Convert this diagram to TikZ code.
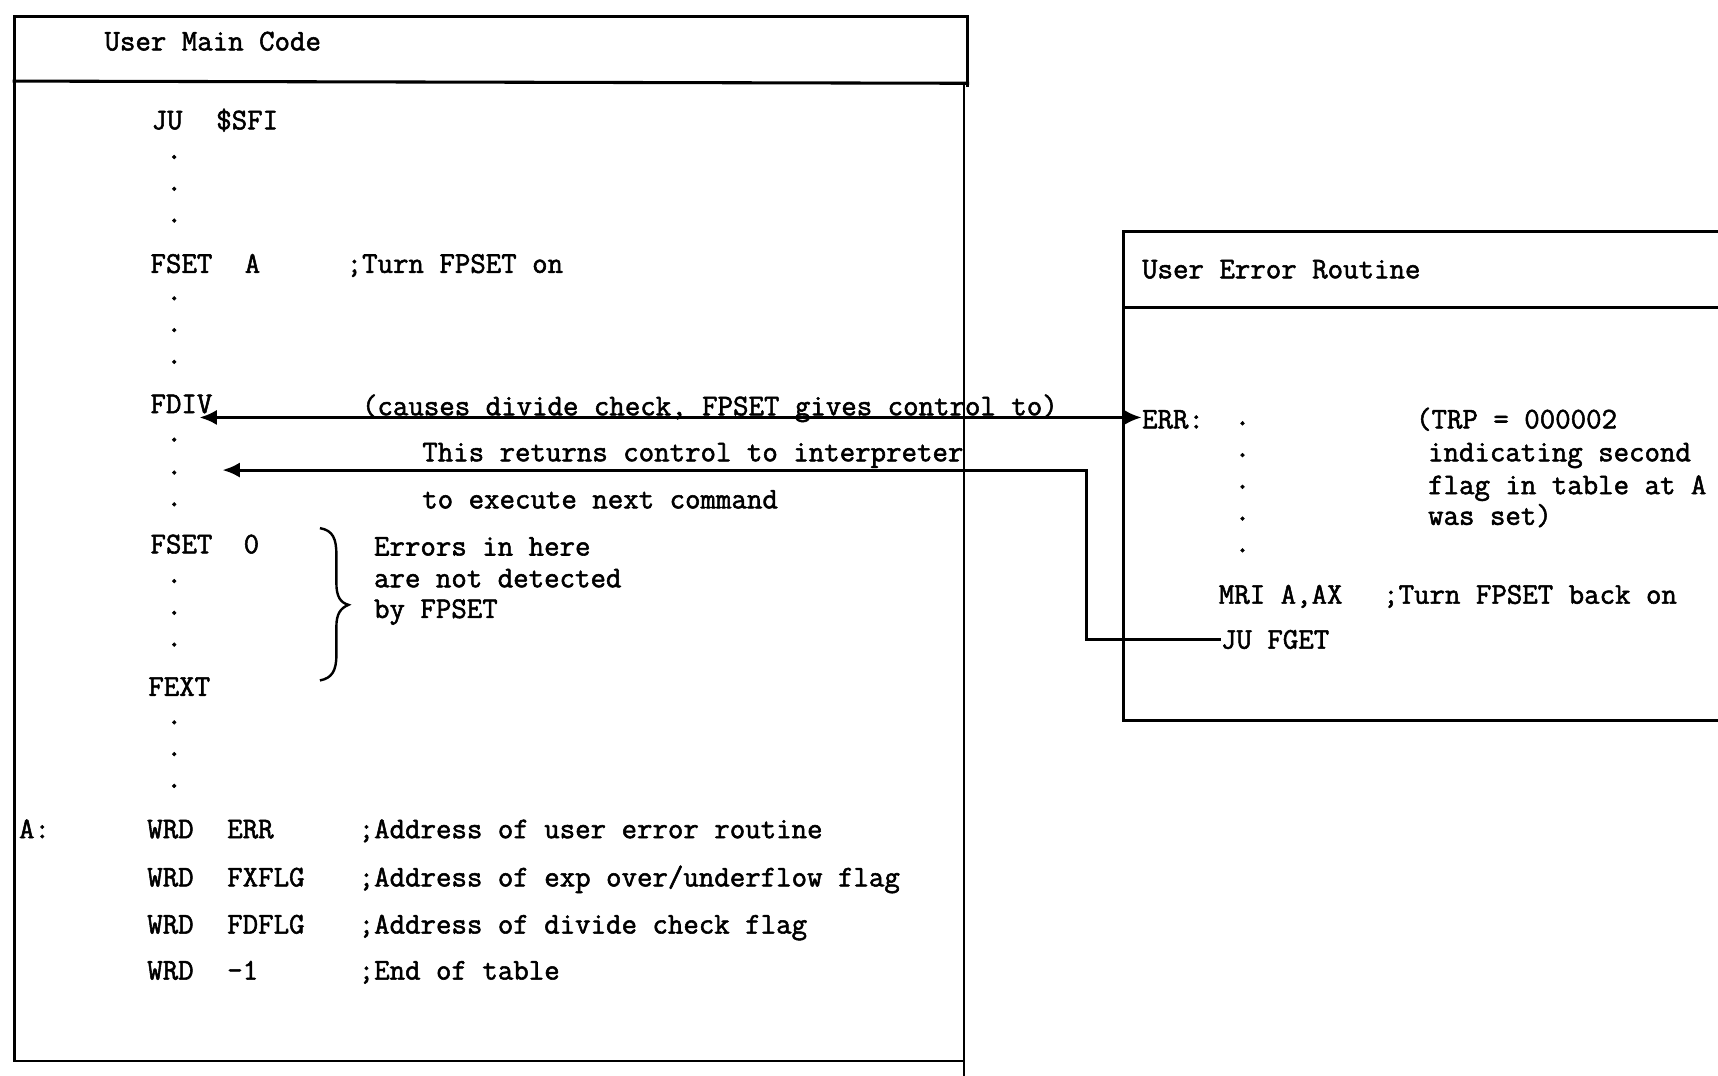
\documentclass[tikz,border=0pt]{standalone}
\usepackage{fontspec}
\newfontfamily\twfont{Latin Modern Mono}[FakeBold=1.8]
\usetikzlibrary{arrows.meta}
\begin{document}
\begin{tikzpicture}[x=0.5pt,y=-0.5pt,
  txt/.style={anchor=base west, inner sep=0pt, font=\fontsize{13.7}{16}\selectfont\twfont},
  dotc/.style={anchor=base, inner sep=0pt, font=\fontsize{15}{16}\selectfont\twfont},
  boxline/.style={line width=1.4pt, line cap=rect},
  thinline/.style={line width=0.9pt},
  conn/.style={line width=1.4pt},
  tipsty/.style={{Latex[length=8pt,width=7pt]}-{Latex[length=8pt,width=7pt]}},
  onetip/.style={-{Latex[length=8pt,width=7pt]}}
]
\useasboundingbox (0,0) rectangle (1568,982);
% ---------- left box ----------
\draw[boxline] (13,968) -- (13,15) -- (883,15) -- (883,78);
\draw[boxline] (13,74) -- (883,76);
\draw[thinline] (880,76) -- (880,982);
\draw[thinline] (13,968) -- (880,968);
\node[txt] (lhead) at (95,46) {User Main Code};
\node[txt] (ju) at (138,118) {JU};
\node[txt] (sfi) at (197,118) {\$SFI};
\foreach \i/\yy in {d1/145,d2/174,d3/203,d4/274,d5/303,d6/332,d7/403,d8/433,d9/462,d10/532,d11/561,d12/590,d13/661,d14/690,d15/719}
  {\node[dotc] (\i) at (159,\yy) {.};}
\node[txt] (fseta) at (137,249) {FSET};
\node[txt] (fsetaa) at (223,249) {A};
\node[txt] (turnon) at (316,249) {;Turn FPSET on};
\node[txt] (fdiv) at (137,377) {FDIV};
\node[txt] (causes) at (330,379) {(causes divide check, FPSET gives control to)};
\node[txt] (returns) at (385,421) {This returns control to interpreter};
\node[txt] (toexec) at (385,464) {to execute next command};
\node[txt] (fset0) at (137,505) {FSET};
\node[txt] (fset00) at (222,505) {0};
\node[txt] (err1) at (341,507) {Errors in here};
\node[txt] (err2) at (341,536) {are not detected};
\node[txt] (err3) at (341,564) {by FPSET};
\draw[line width=1.1pt] (292,482) .. controls (304,484) and (307,492) .. (307,506) -- (307,532)
  .. controls (307,545) and (311,550) .. (318,552)
  .. controls (311,555) and (307,560) .. (307,572) -- (307,598)
  .. controls (307,612) and (303,619) .. (292,621);
\node[txt] (fext) at (135,635) {FEXT};
\node[txt] (alab) at (17,765) {A:};
\foreach \n/\yy/\b/\c in {w1/765/ERR/{;Address of user error routine},
                          w2/809/FXFLG/{;Address of exp over/underflow flag},
                          w3/852/FDFLG/{;Address of divide check flag},
                          w4/894/-1/{;End of table}}
 {\node[txt] (\n a) at (134,\yy) {WRD};
  \node[txt] (\n b) at (207,\yy) {\b};
  \node[txt] (\n c) at (327,\yy) {\c};}
% ---------- right box ----------
\draw[boxline] (1568,211) -- (1025,211) -- (1025,658) -- (1568,658);
\draw[boxline] (1025,281) -- (1568,281);
\node[txt] (rhead) at (1042,254) {User Error Routine};
\node[txt] (errl) at (1042,391) {ERR:};
\foreach \i/\yy in {e1/388,e2/417,e3/446,e4/475,e5/504}
  {\node[dotc] (\i) at (1134,\yy) {.};}
\node[txt] (trp1) at (1292,391) {(TRP = 000002};
\node[txt] (trp2) at (1303,421) {indicating second};
\node[txt] (trp3) at (1303,451) {flag in table at A};
\node[txt] (trp4) at (1303,479) {was set)};
\node[txt] (mri) at (1112,551) {MRI A,AX};
\node[txt] (mric) at (1262,551) {;Turn FPSET back on};
\node[txt] (jufget) at (1114,592) {JU FGET};
% ---------- connectors ----------
\coordinate (fdivtip) at (182,381);
\coordinate (turn) at (992,429);
\coordinate (rettip) at (203,429);
\draw[conn,tipsty] (fdivtip) -- (errl.west |- fdivtip);
\draw[conn,onetip] (jufget.west |- 0,584) -| (turn) -- (rettip);
\end{tikzpicture}
\end{document}
